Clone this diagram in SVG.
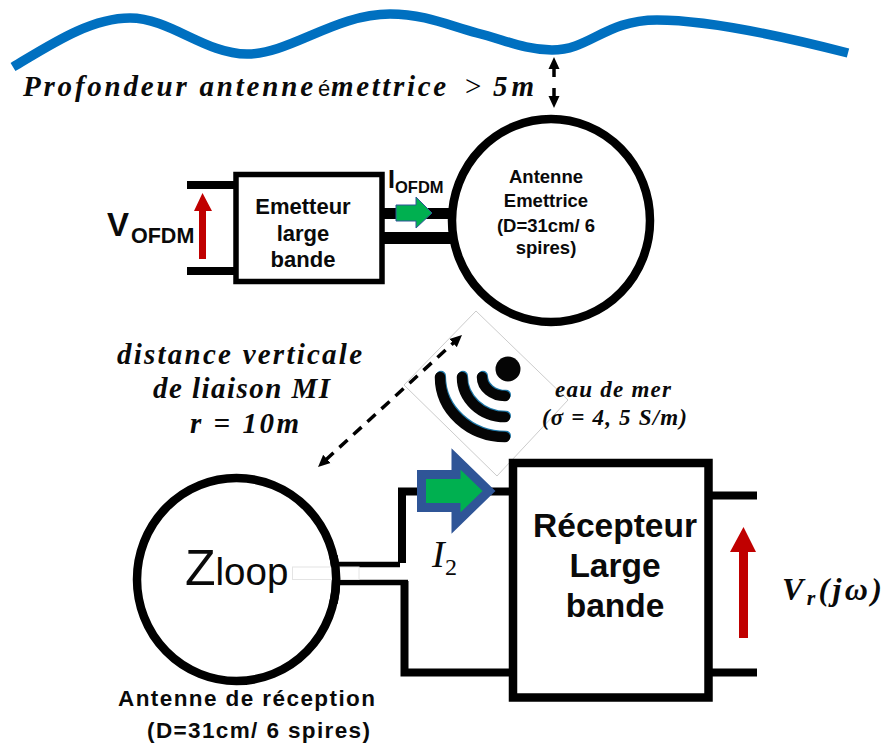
<svg xmlns="http://www.w3.org/2000/svg" width="884" height="746" viewBox="0 0 884 746">
<style>
.s{font-family:"Liberation Sans",Arial,sans-serif;fill:#0a0a0a}
.b{font-weight:700}
.m{font-family:"Liberation Serif","Times New Roman",serif;font-weight:700;font-style:italic;fill:#0a0a0a}
.w{fill:none;stroke:#000}
.d{fill:none;stroke:#000;stroke-width:3.500;stroke-dasharray:11 8}
</style>
<defs>
<marker id="ah" markerUnits="userSpaceOnUse" markerWidth="14" markerHeight="12" refX="2" refY="6" orient="auto-start-reverse"><path d="M0,0.500L12,6L0,11.500Z" fill="#000"/></marker>
</defs>
<rect width="884" height="746" fill="#fff"/>
<g id="sea"><path d="M13,67C50,45 90,18 130,18C170,18 205,54 247,54C290,54 335,14 390,14C425,14 450,26 477,33C505,40 525,50 552,50C590,50 605,20 657,20C700,20 770,33 848,53" fill="none" stroke="#0070c0" stroke-width="9.500"/></g>
<g id="connectors">
<path class="w" stroke-width="3.500" d="M554,77V67" marker-end="url(#ah)"/>
<path class="w" stroke-width="3.500" d="M554,88V98" marker-end="url(#ah)"/>
<path class="w" stroke-width="8" d="M187,185H236M187,271H236"/>
<path class="w" stroke-width="11" d="M382,213.500H456"/>
<path class="w" stroke-width="12" d="M382,238H456"/>
<path class="w" stroke-width="5.500" d="M338,564.500H400M338,582.500H408"/>
<path class="w" stroke-width="8" d="M402,563V491.500H512M404.500,581V672.500H512M708,495.500H757M708,672.500H757"/>
</g>
<g id="depth-label"><text class="m" x="23" y="96" font-size="29" textLength="290">Profondeur antenne</text><text class="s" x="318" y="96" font-size="22">é</text><text class="m" x="331" y="96" font-size="29" textLength="115">mettrice</text><text font-family="Liberation Serif,serif" x="465" y="96" font-size="29">&gt;</text><text class="m" x="493" y="96" font-size="29" textLength="41">5m</text></g>
<g id="voltage-in">
<path d="M199,259V211H194L202.500,193L212,211H206V259Z" fill="#c00000"/>
<text class="s b" x="107" y="236" font-size="33">V</text><text class="s b" x="131" y="243" font-size="21.500">OFDM</text>
</g>
<g id="emetteur">
<rect class="w" x="236" y="174.500" width="146" height="107" stroke-width="5.500" fill="#fff"/>
<g class="s b" font-size="22" text-anchor="middle"><text x="303" y="214">Emetteur</text><text x="303" y="241">large</text><text x="303" y="267">bande</text></g>
</g>
<g id="current-out">
<path d="M396,205H416V197L432,213L416,228V221H396Z" fill="#00b050" stroke="#2f5597"/>
<text class="s b" x="388" y="188" font-size="25">I</text><text class="s b" x="395" y="193" font-size="16.500">OFDM</text>
</g>
<g id="antenne-emettrice">
<ellipse class="w" cx="551" cy="220.500" rx="99" ry="101.500" stroke-width="8.500" fill="#fff"/>
<g class="s b" font-size="18.500" text-anchor="middle"><text x="546" y="183">Antenne</text><text x="546" y="207">Emettrice</text><text x="546" y="232">(D=31cm/ 6</text><text x="546" y="254">spires)</text></g>
</g>
<g id="distance-label" class="m" font-size="29"><text x="117" y="364" textLength="245">distance verticale</text><text x="153" y="398" textLength="177">de liaison MI</text><text x="190" y="433" textLength="109">r = 10m</text></g>
<g id="wifi">
<path d="M476,311L404,385L497,476L568,400Z" fill="#fff" stroke="#ccc" stroke-width="1"/>
<circle cx="508" cy="369" r="12.500" fill="#050505"/>
<g class="w" style="stroke:#1e78a8" stroke-width="10" stroke-linecap="round" transform="translate(1,-1.200)"><path d="M440,377A65,60 0 0 0 505,437"/><path d="M462,377A43,40 0 0 0 505,417"/><path d="M482,377A23,19 0 0 0 505,396"/></g>
<g class="w" style="stroke:#050505" stroke-width="10.500" stroke-linecap="round"><path d="M440,377A65,60 0 0 0 505,437"/><path d="M462,377A43,40 0 0 0 505,417"/><path d="M482,377A23,19 0 0 0 505,396"/></g>
</g>
<path class="d" d="M325.400,460.200L454.600,341.800" marker-start="url(#ah)" marker-end="url(#ah)"/>
<g id="sea-label" class="m" font-size="23"><text x="555" y="397" textLength="116">eau de mer</text><text x="542" y="425" textLength="145">(σ = 4, 5 S/m)</text></g>
<g id="antenne-reception">
<ellipse class="w" cx="236.500" cy="579.500" rx="99.500" ry="101.500" stroke-width="8.500" fill="#fff"/>
<rect x="292.500" y="567" width="66.500" height="12.500" fill="#fff" stroke="#e4e4e4" stroke-width="1"/>
<path class="w" stroke-width="8.500" d="M333.500,556A99.500,101.500 0 0 1 333.500,603"/>
<text class="s" x="185" y="585" font-size="50">Z<tspan font-size="38.500">loop</tspan></text>
<g class="s b" font-size="22.500"><text x="118" y="706" textLength="257">Antenne de réception</text><text x="147" y="738" textLength="223">(D=31cm/ 6 spires)</text></g>
</g>
<g id="recepteur">
<rect class="w" x="513" y="463" width="195.500" height="234.500" stroke-width="8.500" fill="#fff"/>
<g class="s b" font-size="33.500" text-anchor="middle"><text x="615" y="537">Récepteur</text><text x="615" y="577">Large</text><text x="615" y="617">bande</text></g>
</g>
<g id="current-in">
<path d="M421.500,474.500H456V459L489,491L456,523V507.500H421.500Z" fill="#00b050" stroke="#2f5597" stroke-width="9"/>
<text font-family="Liberation Serif,serif" font-style="italic" x="432" y="567" font-size="38" fill="#0a0a0a">I</text><text font-family="Liberation Serif,serif" x="445" y="575" font-size="24" fill="#0a0a0a">2</text>
</g>
<g id="voltage-out">
<path d="M739,638V552H730L743.500,527L756,552H748V638Z" fill="#c00000"/>
<text class="m" x="782" y="600" font-size="32" textLength="100">V<tspan font-size="22" dy="5">r</tspan><tspan dy="-5">(jω)</tspan></text>
</g>
</svg>
